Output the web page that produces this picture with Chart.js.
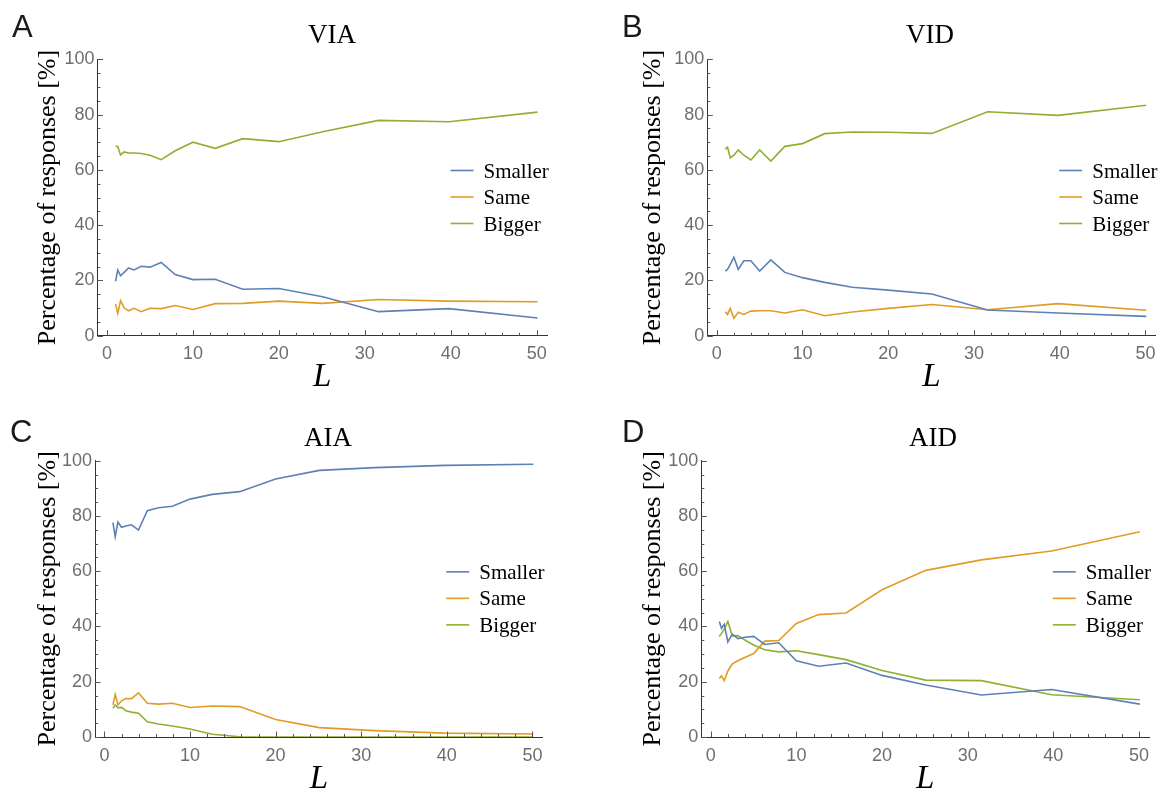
<!doctype html>
<html lang="en">
<head>
<meta charset="utf-8">
<title>Percentage of responses vs L</title>
<style>
  * { margin: 0; padding: 0; }
  body { width: 1164px; height: 797px; background: #fff; overflow: hidden; position: relative; }
  .panel { position: absolute; width: 582px; height: 400px; }
</style>
</head>
<body>
<div class="panel" style="left:0;top:0"><canvas id="chartA" width="582" height="400"></canvas></div>
<div class="panel" style="left:582px;top:0"><canvas id="chartB" width="582" height="400"></canvas></div>
<div class="panel" style="left:0;top:400px"><canvas id="chartC" width="582" height="400"></canvas></div>
<div class="panel" style="left:582px;top:400px"><canvas id="chartD" width="582" height="400"></canvas></div>

<script src="https://cdn.jsdelivr.net/npm/chart.js"></script>
<script>
// L values (log spaced) shared by all four conditions
const lValues = [1, 1.26, 1.58, 2, 2.51, 3.16, 3.98, 5.01, 6.31, 7.94, 10, 12.6, 15.8, 20, 25.1, 31.6, 39.8, 50.1];
const seriesNames = ['Smaller', 'Same', 'Bigger'];
const xTickValues = [0, 10, 20, 30, 40, 50];
const yTickValues = [0, 20, 40, 60, 80, 100];

// VIA
const viaSmaller = [19.7, 23.8, 21.7, 22.9, 24.5, 23.8, 25.1, 24.8, 26.5, 22.1, 20.3, 20.4, 16.8, 17.1, 14.1, 8.7, 9.8, 6.4];
const viaSame    = [11.5, 8.1, 12.7, 10.1, 9.0, 9.9, 8.7, 9.9, 9.8, 10.9, 9.5, 11.6, 11.7, 12.5, 11.7, 13.1, 12.5, 12.3];
const viaBigger  = [68.6, 68.4, 65.4, 66.5, 66.1, 66.1, 65.9, 65.3, 63.7, 66.9, 70.0, 67.8, 71.3, 70.2, 73.8, 77.9, 77.4, 80.9];

// VID
const vidSmaller = [23.4, 24.0, 25.8, 28.4, 24.0, 27.1, 27.1, 23.4, 27.4, 22.9, 21.0, 19.3, 17.5, 16.5, 15.1, 9.3, 8.2, 7.0];
const vidSame    = [8.7, 7.7, 9.9, 6.3, 8.5, 7.7, 8.9, 9.0, 9.0, 8.2, 9.4, 7.2, 8.6, 9.9, 11.3, 9.4, 11.6, 9.2];
const vidBigger  = [67.5, 68.2, 64.3, 65.3, 67.2, 65.3, 63.6, 67.2, 63.2, 68.5, 69.5, 73.1, 73.7, 73.6, 73.2, 81.0, 79.7, 83.4];

// AIA
const aiaSmaller = [77.6, 72.5, 77.8, 75.9, 76.4, 76.8, 74.9, 81.9, 83.0, 83.5, 86.1, 87.8, 88.8, 93.4, 96.5, 97.5, 98.3, 98.7];
const aiaSame    = [11.6, 15.4, 11.6, 13.1, 13.9, 13.9, 16.0, 12.2, 11.9, 12.2, 10.7, 11.2, 11.0, 6.3, 3.4, 2.3, 1.4, 1.1];
const aiaBigger  = [10.4, 11.6, 10.6, 10.7, 9.5, 9.0, 8.6, 5.5, 4.7, 4.0, 2.9, 1.0, 0.1, 0.0, 0.0, 0.0, 0.0, 0.0];

// AID
const aidSmaller = [41.8, 39.3, 40.8, 34.4, 37.2, 35.6, 36.1, 36.4, 33.5, 34.1, 27.6, 25.6, 26.8, 22.3, 18.8, 15.2, 17.2, 11.9];
const aidSame    = [21.2, 22.1, 20.4, 23.9, 26.4, 27.6, 28.8, 30.2, 34.7, 34.9, 41.1, 44.3, 44.9, 53.3, 60.3, 64.1, 67.3, 74.3];
const aidBigger  = [36.4, 37.5, 39.0, 41.8, 36.6, 36.7, 35.1, 33.3, 31.6, 30.8, 31.2, 29.8, 28.0, 24.1, 20.6, 20.4, 15.3, 13.5];

const seriesColors = ['#5e81b5', '#e19c24', '#8fb032'];
const serif = '"Liberation Serif", "Times New Roman", serif';
const sans = '"Liberation Sans", Arial, sans-serif';
const W = 582, H = 400;

// inward frame ticks, major + minor
const frameTicks = {
  id: 'frameTicks',
  afterDraw(chart) {
    const {ctx, chartArea: a, scales: {x, y}} = chart;
    ctx.save();
    ctx.strokeStyle = '#555';
    ctx.lineWidth = 1;
    ctx.beginPath();
    for (let v = 0; v <= 50; v += 2) {
      const px = Math.round(x.getPixelForValue(v)) + 0.5;
      const len = v % 10 === 0 ? 5.5 : 3;
      ctx.moveTo(px, a.bottom);
      ctx.lineTo(px, a.bottom - len);
    }
    for (let v = 0; v <= 100; v += 5) {
      const py = Math.round(y.getPixelForValue(v)) + 0.5;
      const len = v % 20 === 0 ? 5.5 : 3;
      ctx.moveTo(a.left, py);
      ctx.lineTo(a.left + len, py);
    }
    ctx.stroke();
    ctx.restore();
  }
};

// panel letter, title and the line legend inside the plot
const panelText = {
  id: 'panelText',
  afterDraw(chart, args, opts) {
    const {ctx, chartArea: a} = chart;
    ctx.save();
    ctx.fillStyle = '#1a1a1a';
    ctx.textAlign = 'left';
    ctx.textBaseline = 'alphabetic';
    ctx.font = '31px ' + sans;
    ctx.fillText(opts.letter, opts.letterX, opts.letterY);

    ctx.fillStyle = '#000';
    ctx.textAlign = 'center';
    ctx.font = '27px ' + serif;
    ctx.fillText(opts.title, opts.titleX, opts.titleY);

    const mid = (a.top + a.bottom) / 2 - 0.5;
    const x0 = a.right - 96.5;
    ctx.textAlign = 'left';
    ctx.font = '21px ' + serif;
    chart.data.datasets.forEach((ds, i) => {
      const yy = mid + (i - 1) * 26.5;
      ctx.strokeStyle = ds.borderColor;
      ctx.lineWidth = 1.6;
      ctx.beginPath();
      ctx.moveTo(x0, yy);
      ctx.lineTo(x0 + 23, yy);
      ctx.stroke();
      ctx.fillStyle = '#000';
      ctx.fillText(ds.label, x0 + 33, yy + 7);
    });
    ctx.restore();
  }
};

function makePanel(id, letter, title, series, geo) {
  return new Chart(document.getElementById(id), {
    type: 'line',
    data: {
      datasets: seriesNames.map((name, i) => ({
        label: name,
        data: lValues.map((l, j) => ({x: l, y: series[i][j]})),
        borderColor: seriesColors[i],
        borderWidth: 1.6,
        pointRadius: 0,
        tension: 0,
        fill: false
      }))
    },
    options: {
      responsive: false,
      animation: false,
      events: [],
      layout: {padding: {left: 0, top: geo.top, right: W - geo.right, bottom: 0}},
      plugins: {
        legend: {display: false},
        tooltip: {enabled: false},
        panelText: {letter, title, letterX: geo.letterX, letterY: geo.letterY, titleX: geo.titleX, titleY: geo.titleY}
      },
      scales: {
        x: {
          type: 'linear',
          min: -1.1,
          max: 51.2,
          afterBuildTicks: s => { s.ticks = xTickValues.map(v => ({value: v})); },
          afterFit: s => { s.height = H - geo.bottom; },
          grid: {drawOnChartArea: false, drawTicks: false},
          border: {display: true, color: '#333', width: 1},
          ticks: {color: '#6e6e6e', font: {family: sans, size: 18}, padding: 8, maxRotation: 0, autoSkip: false},
          title: {display: true, text: 'L', color: '#000', font: {family: serif, size: 33, style: 'italic'}, padding: {top: 0, bottom: geo.xTitlePad}}
        },
        y: {
          min: 0,
          max: 100,
          afterBuildTicks: s => { s.ticks = yTickValues.map(v => ({value: v})); },
          afterFit: s => { s.width = geo.left; },
          grid: {drawOnChartArea: false, drawTicks: false},
          border: {display: true, color: '#333', width: 1},
          ticks: {color: '#6e6e6e', font: {family: sans, size: 18}, padding: 3},
          title: {display: true, text: 'Percentage of responses [%]', color: '#000', font: {family: serif, size: 26}, padding: {top: geo.yTitlePad, bottom: 0}}
        }
      }
    },
    plugins: [frameTicks, panelText]
  });
}

makePanel('chartA', 'A', 'VIA', [viaSmaller, viaSame, viaBigger],
  {left: 97.5, right: 547, top: 59.3, bottom: 335.7, yTitlePad: 32.4, xTitlePad: 3.2, letterX: 12, letterY: 37, titleX: 332, titleY: 43});
makePanel('chartB', 'B', 'VID', [vidSmaller, vidSame, vidBigger],
  {left: 125.3, right: 573.7, top: 59.3, bottom: 335.7, yTitlePad: 55.8, xTitlePad: 3.2, letterX: 40, letterY: 37, titleX: 348, titleY: 43});
makePanel('chartC', 'C', 'AIA', [aiaSmaller, aiaSame, aiaBigger],
  {left: 95, right: 542.7, top: 60.7, bottom: 337, yTitlePad: 32.8, xTitlePad: 1.2, letterX: 10, letterY: 42, titleX: 328, titleY: 46});
makePanel('chartD', 'D', 'AID', [aidSmaller, aidSame, aidBigger],
  {left: 119.3, right: 567.3, top: 60.7, bottom: 337, yTitlePad: 55.8, xTitlePad: 1.2, letterX: 40, letterY: 42, titleX: 351, titleY: 46});
</script>
</body>
</html>
